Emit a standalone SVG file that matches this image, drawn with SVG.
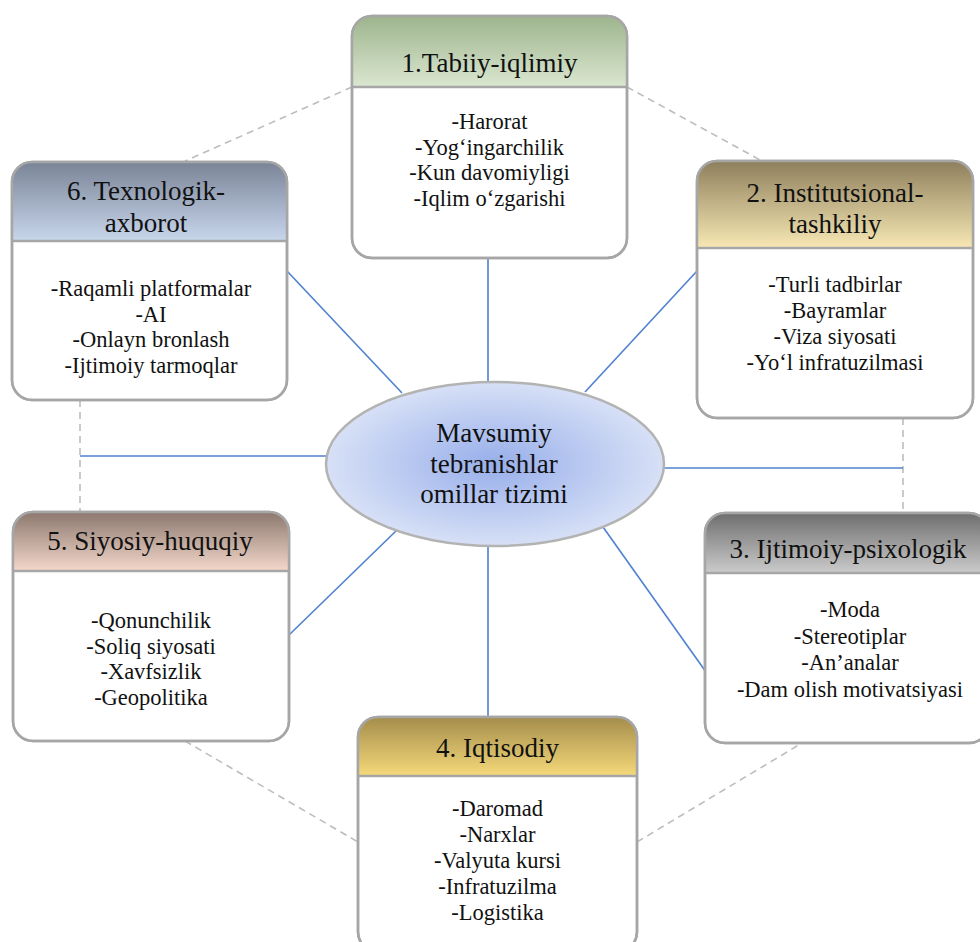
<svg xmlns="http://www.w3.org/2000/svg" width="980" height="942" viewBox="0 0 980 942">
<style>
.box{fill:#ffffff;stroke:#a6a6a6;stroke-width:2.5}
.div{stroke:#a6a6a6;stroke-width:2.5}
.t{font-family:'Liberation Serif','Times New Roman',serif;font-size:27px;fill:#111;text-anchor:middle}
.b{font-family:'Liberation Serif','Times New Roman',serif;font-size:22.5px;fill:#111;text-anchor:middle}
.blue{stroke:#4f81d0;stroke-width:1.6;fill:none}
.dash{stroke:#bdbdbd;stroke-width:1.6;stroke-dasharray:7 5;fill:none}
</style>
<defs>
<linearGradient id="g1" x1="0" y1="0" x2="0" y2="1"><stop offset="0" stop-color="#9db48d"/><stop offset="1" stop-color="#dbe7d0"/></linearGradient>
<linearGradient id="g2" x1="0" y1="0" x2="0" y2="1"><stop offset="0" stop-color="#8e7f5d"/><stop offset="1" stop-color="#f7e8b4"/></linearGradient>
<linearGradient id="g3" x1="0" y1="0" x2="0" y2="1"><stop offset="0" stop-color="#6e6e6e"/><stop offset="1" stop-color="#cbcbcb"/></linearGradient>
<linearGradient id="g4" x1="0" y1="0" x2="0" y2="1"><stop offset="0" stop-color="#a48d4c"/><stop offset="1" stop-color="#f6d97a"/></linearGradient>
<linearGradient id="g5" x1="0" y1="0" x2="0" y2="1"><stop offset="0" stop-color="#8c786e"/><stop offset="1" stop-color="#f4d8cb"/></linearGradient>
<linearGradient id="g6" x1="0" y1="0" x2="0" y2="1"><stop offset="0" stop-color="#7a8497"/><stop offset="1" stop-color="#c8d6ec"/></linearGradient>
<radialGradient id="ge" cx="0.5" cy="0.5" r="0.5"><stop offset="0" stop-color="#97aeea"/><stop offset="1" stop-color="#d7e0f6"/></radialGradient>
</defs>

<g id="connectors">
<line class="dash" x1="352" y1="87" x2="185" y2="161"/>
<line class="dash" x1="627" y1="87" x2="762" y2="161"/>
<line class="dash" x1="80" y1="400" x2="80" y2="512"/>
<line class="dash" x1="903" y1="418" x2="903" y2="513"/>
<line class="dash" x1="185" y1="741" x2="358" y2="842"/>
<line class="dash" x1="637" y1="842" x2="802" y2="743"/>
<line class="blue" x1="488" y1="258" x2="488" y2="382"/>
<line class="blue" x1="488" y1="546" x2="488" y2="717"/>
<line class="blue" x1="287" y1="271" x2="402" y2="393"/>
<line class="blue" x1="697" y1="271" x2="585" y2="392"/>
<line class="blue" x1="289" y1="635" x2="397" y2="530"/>
<line class="blue" x1="706" y1="672" x2="603" y2="527"/>
<line class="blue" x1="80" y1="456" x2="327" y2="456"/>
<line class="blue" x1="663" y1="468" x2="903" y2="468"/>
</g>

<g id="center">
<ellipse cx="495" cy="464" rx="169" ry="82" fill="url(#ge)" stroke="#b3b3b3" stroke-width="2.5"/>
<text class="t" x="494" y="442">Mavsumiy</text>
<text class="t" x="494" y="472.5">tebranishlar</text>
<text class="t" x="494" y="503">omillar tizimi</text>
</g>

<g id="node1">
<rect class="box" x="352" y="16" width="275" height="242" rx="20"/>
<path d="M352,87 V36 A20,20 0 0 1 372,16 H607 A20,20 0 0 1 627,36 V87 Z" fill="url(#g1)"/>
<line class="div" x1="352" y1="87" x2="627" y2="87"/>
<rect x="352" y="16" width="275" height="242" rx="20" fill="none" stroke="#a6a6a6" stroke-width="2.5"/>
<text class="t" x="489.5" y="72">1.Tabiiy-iqlimiy</text>
<text class="b" x="489.5" y="129">-Harorat</text>
<text class="b" x="489.5" y="154.5">-Yog‘ingarchilik</text>
<text class="b" x="489.5" y="180">-Kun davomiyligi</text>
<text class="b" x="489.5" y="205.5">-Iqlim o‘zgarishi</text>
</g>

<g id="node2">
<rect class="box" x="697" y="161" width="276" height="257" rx="20"/>
<path d="M697,248 V181 A20,20 0 0 1 717,161 H953 A20,20 0 0 1 973,181 V248 Z" fill="url(#g2)"/>
<line class="div" x1="697" y1="248" x2="973" y2="248"/>
<rect x="697" y="161" width="276" height="257" rx="20" fill="none" stroke="#a6a6a6" stroke-width="2.5"/>
<text class="t" x="835" y="202">2. Institutsional-</text>
<text class="t" x="835" y="233">tashkiliy</text>
<text class="b" x="835" y="292">-Turli tadbirlar</text>
<text class="b" x="835" y="318">-Bayramlar</text>
<text class="b" x="835" y="344">-Viza siyosati</text>
<text class="b" x="835" y="370">-Yo‘l infratuzilmasi</text>
</g>

<g id="node3">
<rect class="box" x="705" y="513" width="284" height="230" rx="20"/>
<path d="M705,573 V533 A20,20 0 0 1 725,513 H969 A20,20 0 0 1 989,533 V573 Z" fill="url(#g3)"/>
<line class="div" x1="705" y1="573" x2="989" y2="573"/>
<rect x="705" y="513" width="284" height="230" rx="20" fill="none" stroke="#a6a6a6" stroke-width="2.5"/>
<text class="t" x="848" y="558">3. Ijtimoiy-psixologik</text>
<text class="b" x="850" y="617">-Moda</text>
<text class="b" x="850" y="643.5">-Stereotiplar</text>
<text class="b" x="850" y="670">-An’analar</text>
<text class="b" x="850" y="697">-Dam olish motivatsiyasi</text>
</g>

<g id="node4">
<rect class="box" x="358" y="717" width="279" height="235" rx="20"/>
<path d="M358,776 V737 A20,20 0 0 1 378,717 H617 A20,20 0 0 1 637,737 V776 Z" fill="url(#g4)"/>
<line class="div" x1="358" y1="776" x2="637" y2="776"/>
<rect x="358" y="717" width="279" height="235" rx="20" fill="none" stroke="#a6a6a6" stroke-width="2.5"/>
<text class="t" x="497.5" y="757">4. Iqtisodiy</text>
<text class="b" x="497.5" y="816">-Daromad</text>
<text class="b" x="497.5" y="842">-Narxlar</text>
<text class="b" x="497.5" y="868">-Valyuta kursi</text>
<text class="b" x="497.5" y="894">-Infratuzilma</text>
<text class="b" x="497.5" y="920">-Logistika</text>
</g>

<g id="node5">
<rect class="box" x="13" y="512" width="276" height="229" rx="20"/>
<path d="M13,571 V532 A20,20 0 0 1 33,512 H269 A20,20 0 0 1 289,532 V571 Z" fill="url(#g5)"/>
<line class="div" x1="13" y1="571" x2="289" y2="571"/>
<rect x="13" y="512" width="276" height="229" rx="20" fill="none" stroke="#a6a6a6" stroke-width="2.5"/>
<text class="t" x="150" y="550">5. Siyosiy-huquqiy</text>
<text class="b" x="151" y="628">-Qonunchilik</text>
<text class="b" x="151" y="653.5">-Soliq siyosati</text>
<text class="b" x="151" y="679">-Xavfsizlik</text>
<text class="b" x="151" y="704.5">-Geopolitika</text>
</g>

<g id="node6">
<rect class="box" x="12" y="162" width="275" height="238" rx="20"/>
<path d="M12,241 V182 A20,20 0 0 1 32,162 H267 A20,20 0 0 1 287,182 V241 Z" fill="url(#g6)"/>
<line class="div" x1="12" y1="241" x2="287" y2="241"/>
<rect x="12" y="162" width="275" height="238" rx="20" fill="none" stroke="#a6a6a6" stroke-width="2.5"/>
<text class="t" x="146" y="200">6. Texnologik-</text>
<text class="t" x="146" y="232">axborot</text>
<text class="b" x="151" y="296">-Raqamli platformalar</text>
<text class="b" x="151" y="321.5">-AI</text>
<text class="b" x="151" y="347">-Onlayn bronlash</text>
<text class="b" x="151" y="372.5">-Ijtimoiy tarmoqlar</text>
</g>
</svg>
